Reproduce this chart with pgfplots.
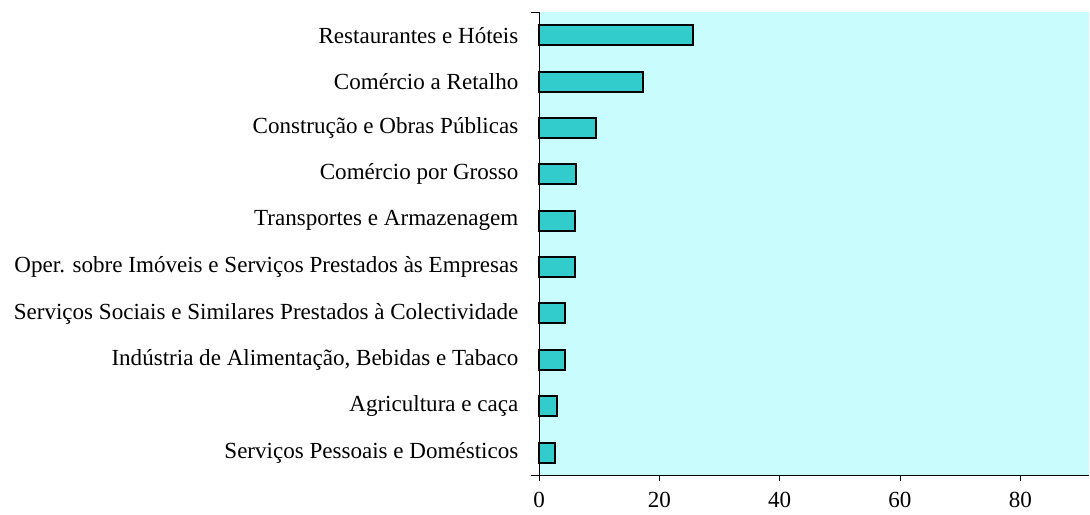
\documentclass[border=0pt]{standalone}
\usepackage{fontspec}
\setmainfont{Liberation Serif}
\usepackage{pgfplots}
\pgfplotsset{compat=1.18}
\definecolor{barcol}{HTML}{33CCCC}
\definecolor{bgcol}{HTML}{C9FDFD}
\begin{document}
\begin{tikzpicture}
\begin{axis}[
  scale only axis,
  width=413pt, height=348pt,
  xbar, bar width=15pt,
  xmin=0, xmax=91.5,
  ymin=-0.5, ymax=9.5,
  axis x line*=bottom, axis y line*=left,
  axis line style={black, line width=0.8pt},
  axis background/.style={fill=bgcol},
  xtick={0,20,40,60,80},
  ytick={0,...,9},
  yticklabels={Serviços Pessoais e Domésticos,Agricultura e caça,{Indústria de Alimentação, Bebidas e Tabaco},Serviços Sociais e Similares Prestados à Colectividade,Oper. sobre Imóveis e Serviços Prestados às Empresas,Transportes e Armazenagem,Comércio por Grosso,Construção e Obras Públicas,Comércio a Retalho,Restaurantes e Hóteis},
  tick align=outside,
  major tick length=4pt,
  ytick style={draw=none},
  xtick style={black, line width=0.6pt},
  extra y ticks={-0.5,9.5},
  extra y tick labels={},
  extra y tick style={ytick style={draw=black, line width=0.6pt}, major tick length=6pt},
  ticklabel style={font=\fontsize{17.3}{20}\selectfont},
  xticklabel style={yshift=-5pt},
  yticklabel style={xshift=-8pt},
  /pgf/number format/assume math mode=true,
  clip=false,
]
\addplot[fill=barcol, draw=black, line width=1.5pt] coordinates {
(2.7,0) (3.0,1) (4.3,2) (4.3,3) (5.9,4) (5.9,5) (6.2,6) (9.4,7) (17.3,8) (25.6,9)
};
\end{axis}
\useasboundingbox (-404.5pt,-29.25pt) rectangle (413pt,357pt);
\end{tikzpicture}
\end{document}
